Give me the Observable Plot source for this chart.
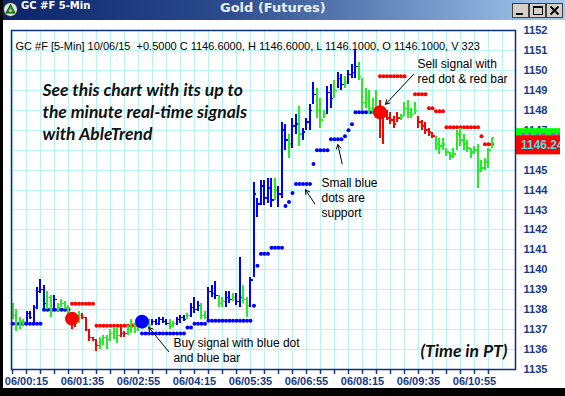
<!DOCTYPE html>
<html><head><meta charset="utf-8">
<script src="https://cdn.jsdelivr.net/npm/d3@7"></script>
<script src="https://cdn.jsdelivr.net/npm/@observablehq/plot@0.6"></script>
<style>
body{margin:0;background:#fff}
#win{position:relative;width:565px;height:396px;overflow:hidden;background:#fff}
#tb{position:absolute;left:0;top:0;width:565px;height:20px;background:linear-gradient(90deg,#0a246a 0%,#2c4c8e 40%,#a6caf0 100%)}
#tl{position:absolute;left:21px;top:0;line-height:20px;font:bold 10px "DejaVu Sans",sans-serif;color:#fff;white-space:nowrap}
#tc{position:absolute;left:220px;top:0;line-height:20px;font:bold 13px "DejaVu Sans",sans-serif;color:#e8eef8;white-space:nowrap}
.blk{position:absolute;background:#000}
</style></head>
<body>
<div id="win">
  <div id="chart" style="position:absolute;left:0;top:20px"></div>
  <div id="tb">
    <svg width="18" height="18" style="position:absolute;left:2px;top:1px">
      <circle cx="8.5" cy="8.5" r="7" fill="#e4e4e4" stroke="#222" stroke-width="1"/>
      <path d="M8.5 3.5 L13 12 L4 12 Z" fill="#22a022" stroke="#0d4d0d" stroke-width="1"/>
      <path d="M8.5 8 L10 10.5 L7 10.5 Z" fill="#fff"/>
    </svg>
    <span id="tl">GC #F 5-Min</span>
    <span id="tc">Gold (Futures)</span>
    <svg width="52" height="16" style="position:absolute;left:512px;top:3px">
      <rect x="0.5" y="0.5" width="16" height="14" fill="#d4d0c8" stroke="#404040"/>
      <rect x="17.5" y="0.5" width="16" height="14" fill="#d4d0c8" stroke="#404040"/>
      <rect x="34.5" y="0.5" width="16" height="14" fill="#d4d0c8" stroke="#404040"/>
      <rect x="4" y="10" width="7" height="2" fill="#000"/>
      <rect x="21.5" y="3.5" width="9" height="8" fill="none" stroke="#000" stroke-width="1"/>
      <rect x="21" y="3" width="10" height="2" fill="#000"/>
      <path d="M38.5 3.5 L46.5 11.5 M46.5 3.5 L38.5 11.5" stroke="#000" stroke-width="2"/>
    </svg>
  </div>
  <div class="blk" style="left:0;top:0;width:3px;height:396px"></div>
  <div class="blk" style="left:0;top:388px;width:565px;height:8px"></div>
</div>
<script>
// ---- data (5-minute bars, 10/06/15) ----
const firstBarMinute = -5;   // minutes after 06/00:00 of first bar
const barMinutes = 5;
const highs = [1138.3,1138.0,1137.6,1137.5,1137.9,1137.9,1138.2,1139.1,1139.5,1139.2,
1138.9,1138.7,1138.7,1138.3,1138.5,1138.4,1138.2,1137.8,1137.7,1137.9,
1137.8,1137.6,1137.0,1136.6,1136.5,1136.6,1136.7,1136.7,1137.0,1137.1,
1137.1,1137.1,1136.9,1137.2,1137.5,1137.3,1137.3,1137.6,1137.4,1137.5,
1137.5,1137.5,1137.6,1137.6,1137.5,1137.5,1137.4,1137.6,1137.7,1137.7,
1137.8,1138.3,1138.6,1138.4,1138.3,1137.9,1139.1,1139.2,1139.4,1138.7,
1138.6,1138.9,1138.9,1138.8,1138.8,1140.6,1139.2,1138.6,1139.6,1144.4,
1143.6,1144.5,1144.5,1144.6,1144.6,1144.6,1144.2,1147.4,1147.3,1146.8,
1147.6,1147.8,1148.2,1147.1,1147.6,1148.3,1149.4,1149.1,1148.6,1148.0,
1149.2,1149.3,1149.5,1149.9,1149.8,1149.7,1150.0,1150.3,1151.0,1150.4,
1149.6,1149.1,1149.0,1148.6,1149.0,1148.5,1148.0,1148.0,1147.9,1147.7,
1147.9,1147.8,1148.4,1148.5,1148.1,1148.4,1147.7,1147.5,1147.4,1147.1,
1146.9,1146.7,1146.6,1146.6,1146.1,1145.9,1146.1,1147.0,1147.1,1146.8,
1146.5,1146.1,1146.2,1146.3,1145.5,1145.6,1146.1,1146.6];
const lows = [1137.5,1136.9,1137.0,1137.2,1137.3,1137.5,1137.3,1138.0,1138.8,1138.0,
1138.0,1137.6,1138.0,1137.9,1138.1,1138.0,1137.6,1137.0,1137.1,1137.3,
1137.5,1136.9,1136.4,1136.4,1135.9,1136.0,1136.2,1136.0,1136.4,1136.5,
1136.3,1136.6,1136.6,1136.7,1136.8,1136.8,1136.9,1137.1,1137.1,1137.0,
1137.2,1137.2,1137.2,1137.3,1137.2,1137.0,1137.1,1137.2,1137.3,1137.4,
1137.5,1137.6,1137.8,1137.9,1137.5,1137.5,1137.4,1138.6,1138.5,1138.1,
1138.1,1138.1,1138.3,1138.4,1138.2,1138.1,1138.3,1137.6,1138.1,1139.6,
1142.6,1143.2,1143.2,1143.3,1143.1,1143.5,1143.1,1143.6,1146.0,1145.6,
1146.1,1146.8,1146.2,1146.5,1147.0,1147.0,1148.3,1147.6,1147.1,1147.6,
1147.8,1148.1,1148.6,1149.1,1149.0,1149.1,1149.3,1149.6,1149.6,1149.5,
1148.0,1148.1,1147.8,1147.8,1147.6,1146.6,1146.3,1147.5,1147.3,1147.1,
1147.4,1147.5,1147.7,1147.6,1147.6,1147.8,1147.1,1147.0,1146.8,1146.7,
1146.6,1146.0,1145.8,1146.0,1145.7,1145.5,1145.6,1146.0,1146.2,1146.0,
1145.9,1145.6,1145.8,1144.1,1144.9,1145.0,1145.1,1146.1];
const closes = [1137.7,1137.2,1137.4,1137.4,1137.8,1137.6,1138.1,1138.9,1139.0,1138.3,
1138.6,1137.9,1138.5,1138.1,1138.3,1138.1,1137.8,1137.3,1137.4,1137.7,
1137.6,1137.0,1136.6,1136.5,1136.2,1136.4,1136.6,1136.5,1136.8,1136.9,
1136.7,1136.8,1136.8,1137.0,1137.3,1137.0,1137.2,1137.5,1137.3,1137.2,
1137.4,1137.3,1137.5,1137.4,1137.3,1137.2,1137.3,1137.5,1137.6,1137.5,
1137.7,1138.1,1138.0,1138.2,1137.7,1137.6,1138.9,1138.8,1138.7,1138.3,
1138.4,1138.6,1138.5,1138.6,1138.4,1138.6,1138.5,1138.2,1139.5,1143.8,
1143.3,1144.2,1143.6,1144.1,1143.5,1144.0,1143.8,1147.0,1146.5,1146.3,
1147.2,1147.3,1146.8,1146.9,1147.4,1148.0,1148.8,1148.0,1147.5,1147.8,
1148.9,1148.6,1149.0,1149.6,1149.3,1149.4,1149.8,1149.9,1150.2,1149.7,
1148.4,1148.6,1148.1,1148.0,1147.9,1147.6,1147.7,1147.6,1147.5,1147.3,
1147.6,1147.7,1148.1,1147.9,1147.8,1148.0,1147.4,1147.2,1147.0,1146.9,
1146.7,1146.3,1146.2,1146.3,1145.9,1145.7,1145.8,1146.8,1146.5,1146.3,
1146.1,1145.9,1146.0,1145.0,1145.1,1145.4,1146.0,1146.6];
// b = blue (up trend), g = green (neutral), r = red (down trend)
const trend = ("ggggbbbbbb" + "ggbggggrrg" + "rrrrrggggg" + "grrggggbgg" + "bbbbbggbbb" +
  "gbbbggbbbg" + "gbbgbbggbb" + "bbbbbgbbbg" + "bbgbbbbggg" + "bbgbbgbbbg" +
  "gggggrrrrr" + "rgggggrrrr" + "rggggggggg" + "gggggggg").split("");
// support (blue dots) and resistance (red dots): [firstBar, lastBar, price]
const supportRuns = [[0,8,1137.3],[9,16,1138.0],[37,49,1136.8],[50,51,1137.1],[52,55,1137.3],
  [56,68,1137.45],[69,69,1138.2],[70,70,1140.2],[71,73,1140.8],[74,77,1141.1],[78,78,1143.2],
  [79,79,1143.4],[80,80,1143.85],[81,85,1144.3],[86,86,1145.3],[87,90,1146.0],[91,94,1146.55],
  [95,95,1146.7],[96,96,1147.0],[97,97,1147.3],[98,104,1147.9]];
const resistRuns = [[17,23,1138.3],[24,35,1137.2],[105,112,1149.7],[115,118,1148.8],[119,120,1148.1],
  [121,123,1147.95],[124,133,1147.15],[134,134,1146.7],[135,137,1146.3]];
const signalBars = [17, 37, 105];
const signalPrices = [1137.55, 1137.4, 1147.9];
const signalTypes = ["sell", "buy", "sell"];
// 1146 sits behind the last-price boxes, so it is not printed
const yTicks = [1135,1136,1137,1138,1139,1140,1141,1142,1143,1144,1145,1147,1148,1149,1150,1151,1152];
const minorTicks = d3.range(-5, 676, 20);
const gridTimes = d3.range(-5, 700, 20);
const gridPrices = d3.range(1136, 1152);
const labelTicks = d3.range(15, 656, 80);
const header = "GC #F [5-Min] 10/06/15  +0.5000 C 1146.6000, H 1146.6000, L 1146.1000, O 1146.1000, V 323";
const promo = ["See this chart with its up to", "the minute real-time signals", "with AbleTrend"];
const lastClose = 1146.6, lastLabel = 1146.24;
// annotations in (minutes, price)
const noteText = ["Sell signal with", "red dot & red bar", "Small blue", "dots are", "support", "Buy signal with blue dot", "and blue bar"];
const noteT = [573.6, 573.6, 436.4, 436.4, 436.4, 225, 225];
const noteP = [1150.33, 1149.58, 1144.33, 1143.58, 1142.83, 1136.33, 1135.58];
const arrowsT1 = [567.9, 466.0, 426.9, 218.3];
const arrowsP1 = [1149.8, 1145.31, 1143.31, 1135.89];
const arrowsT2 = [527.9, 459.7, 413.6, 189.7];
const arrowsP2 = [1148.3, 1146.28, 1144.01, 1137.11];

// ---- build ----
const colorOf = {b: "#0000ff", g: "#22ee22", r: "#ff0000"};
const barTime = i => firstBarMinute + barMinutes * i;
const bars = highs.map((h, i) => ({t: barTime(i), hi: h, lo: lows[i], cl: closes[i], c: colorOf[trend[i]]}));
const expand = runs => runs.flatMap(([a, b, v]) => d3.range(a, b + 1).map(i => ({t: barTime(i), p: v})));
const support = expand(supportRuns);
const resist = expand(resistRuns);
const signals = signalBars.map((b, i) => ({t: barTime(b), p: signalPrices[i], c: signalTypes[i] === "buy" ? "#0000ff" : "#ff0000"}));
const notes = noteText.map((s, i) => ({s, t: noteT[i], p: noteP[i]}));
const arrows = arrowsT1.map((t, i) => ({t1: t, p1: arrowsP1[i], t2: arrowsT2[i], p2: arrowsP2[i]}));
const pad = n => String(n).padStart(2, "0");
const fmt = m => "06/" + pad(Math.floor(m / 60)) + ":" + pad(m % 60);
const axisColor = "#17398a";
const promoStyle = {frameAnchor: "top-left", dx: 31, textAnchor: "start", fontSize: 17.5, fontWeight: "bold", fontStyle: "italic", fontFamily: "Lato", fill: "#111"};

const chart = Plot.plot({
  width: 565, height: 376,
  marginLeft: 11, marginRight: 50, marginTop: 10, marginBottom: 27,
  x: {domain: [-6.43, 713.6]},
  y: {domain: [1135, 1152]},
  color: {type: "identity"},
  style: {background: "#fff", fontFamily: "Arial, 'Liberation Sans', sans-serif", overflow: "visible"},
  marks: [
    Plot.ruleX(gridTimes, {stroke: "#b9f3f3", strokeWidth: 1, shapeRendering: "crispEdges"}),
    Plot.ruleY(gridPrices, {stroke: "#b9f3f3", strokeWidth: 1, shapeRendering: "crispEdges"}),
    Plot.axisX({ticks: minorTicks, tickSize: 5, tickFormat: () => "", stroke: axisColor, strokeWidth: 1.5, label: null}),
    Plot.axisX({ticks: labelTicks, tickSize: 0, tickPadding: 8, tickFormat: fmt, fill: axisColor, fontWeight: "bold", fontSize: 11, label: null}),
    Plot.axisY({anchor: "right", ticks: yTicks, tickSize: 0, tickPadding: 8, tickFormat: d => String(d), fill: axisColor, fontWeight: "bold", fontSize: 11, label: null}),
    Plot.text([header], {frameAnchor: "top-left", dx: 4, dy: 12, textAnchor: "start", fontSize: 11, fill: "#000"}),
    Plot.text([promo[0]], {...promoStyle, dy: 52.7}),
    Plot.text([promo[1]], {...promoStyle, dy: 75}),
    Plot.text([promo[2]], {...promoStyle, dy: 96.7}),
    Plot.text(["(Time in PT)"], {...promoStyle, frameAnchor: "bottom-right", dx: -8, dy: -13, textAnchor: "end"}),
    Plot.dot(support, {x: "t", y: "p", r: 2, fill: "#0000ff"}),
    Plot.dot(resist, {x: "t", y: "p", r: 2, fill: "#ff0000"}),
    Plot.ruleX(bars, {x: "t", y1: "lo", y2: "hi", stroke: "c", strokeWidth: 2, shapeRendering: "crispEdges"}),
    Plot.link(bars, {x1: "t", x2: d => d.t + 3, y1: "cl", y2: "cl", stroke: "c", strokeWidth: 1.5, shapeRendering: "crispEdges"}),
    Plot.dot(signals, {x: "t", y: "p", r: 7, fill: "c"}),
    Plot.arrow(arrows, {x1: "t1", y1: "p1", x2: "t2", y2: "p2", stroke: "#000", strokeWidth: 1, headLength: 7}),
    Plot.text(notes, {x: "t", y: "p", text: "s", textAnchor: "start", fontSize: 12, fill: "#000"}),
    Plot.frame({stroke: "#0c2f80", strokeWidth: 1.5})
  ]
});

// last-price labels on the right scale
const ys = chart.scale("y");
const svg = d3.select(chart);
const defs = svg.append("defs");
defs.append("clipPath").attr("id", "lblclip").append("rect").attr("x", 516).attr("y", 0).attr("width", 44).attr("height", 376);
const lab = svg.append("g").attr("clip-path", "url(#lblclip)").attr("text-anchor", "start")
  .attr("font-family", "Arial, 'Liberation Sans', sans-serif").attr("font-weight", "bold").attr("font-size", 12);
[[lastClose, "#00ff00", "#e030e0"], [lastLabel, "#ff0000", "#40e4ee"]].forEach(([v, bg, fg]) => {
  const y = ys.apply(v);
  lab.append("rect").attr("x", 516).attr("y", y - 9.5).attr("width", 44).attr("height", 19).attr("fill", bg);
  lab.append("text").attr("x", 521).attr("y", y).attr("dy", "0.35em").attr("fill", fg).text(v.toFixed(2));
});

document.getElementById("chart").appendChild(chart);
</script>
</body></html>
